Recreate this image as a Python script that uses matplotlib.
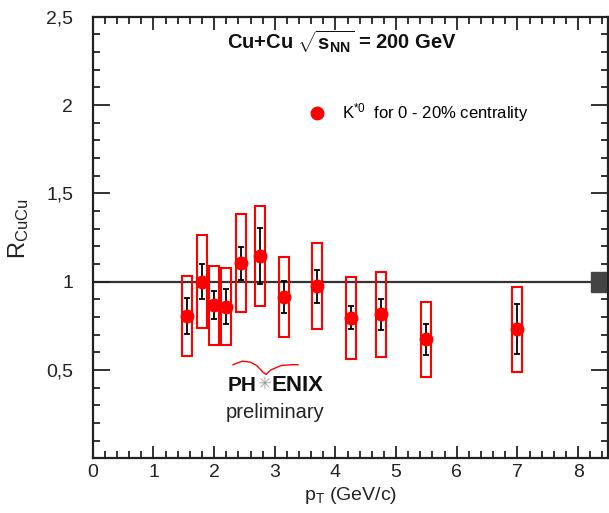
import matplotlib
matplotlib.use("Agg")
import matplotlib.pyplot as plt
from matplotlib.patches import Rectangle
from matplotlib.ticker import MultipleLocator, FixedLocator, FixedFormatter

plt.rcParams['font.family'] = ['Liberation Sans', 'DejaVu Sans']
plt.rcParams['mathtext.fontset'] = 'custom'
plt.rcParams['mathtext.rm'] = 'Liberation Sans'
plt.rcParams['mathtext.it'] = 'Liberation Sans:italic'
plt.rcParams['mathtext.bf'] = 'Liberation Sans:bold'

# ---- data ----
pt = [1.55, 1.8, 2.0, 2.2, 2.45, 2.75, 3.15, 3.7, 4.25, 4.75, 5.5, 7.0]
R = [0.805, 1.0, 0.867, 0.858, 1.104, 1.145, 0.914, 0.975, 0.797, 0.816, 0.673, 0.73]
stat_err = [0.10, 0.098, 0.08, 0.10, 0.095, 0.16, 0.09, 0.093, 0.066, 0.087, 0.088, 0.142]
sys_err = [0.225, 0.262, 0.224, 0.218, 0.278, 0.285, 0.227, 0.245, 0.232, 0.24, 0.212, 0.239]
norm_err = 0.057
yticks = [0, 0.5, 1, 1.5, 2, 2.5]
ytick_labels = ['', '0,5', '1', '1,5', '2', '2,5']
xticks = [0, 1, 2, 3, 4, 5, 6, 7, 8]

# ---- style ----
box_w = 0.165
norm_w = 0.29
red = '#ff0000'

fig = plt.figure(figsize=(6.09, 5.13), dpi=100)
ax = fig.add_axes([0.1524, 0.1066, 0.8476 - 0.001, 0.8608])
ax.set_xlim(0, 8.5)
ax.set_ylim(0, 2.5)

ax.axhline(1.0, color='#333333', lw=1.6, zorder=1)
ax.add_patch(Rectangle((8.5 - norm_w, 1 - norm_err), norm_w, 2 * norm_err,
                       facecolor='#444444', edgecolor='#444444', zorder=2, clip_on=False))

for x, y, s in zip(pt, R, sys_err):
    ax.add_patch(Rectangle((x - box_w / 2, y - s), box_w, 2 * s, fill=False,
                           edgecolor=red, lw=1.5, zorder=3))

ax.errorbar(pt, R, yerr=stat_err, fmt='none', ecolor='black', elinewidth=1.3,
            capsize=2.5, capthick=1.3, zorder=4)
ax.plot(pt, R, 'o', color=red, markersize=9, zorder=5,
        label=r'K$^{*0}$  for 0 - 20% centrality')

# ticks
ax.yaxis.set_major_locator(FixedLocator(yticks))
ax.yaxis.set_major_formatter(FixedFormatter(ytick_labels))
ax.yaxis.set_minor_locator(MultipleLocator(0.1))
ax.xaxis.set_major_locator(FixedLocator(xticks))
ax.xaxis.set_minor_locator(MultipleLocator(0.2))
ax.tick_params(which='both', direction='in', top=True, right=True, colors='#222222',
               labelsize=14, width=1.3)
ax.tick_params(axis='y', which='major', length=12, pad=14)
ax.tick_params(axis='x', which='major', length=9, pad=4)
ax.tick_params(which='minor', length=5)
for sp in ax.spines.values():
    sp.set_linewidth(1.6)
    sp.set_color('#222222')

ax.set_xlabel(r'p$_{\mathrm{T}}$ (GeV/c)', fontsize=14, color='#222222', labelpad=3)
ax.set_ylabel(r'R$_{\mathrm{CuCu}}$', fontsize=17, color='#222222')
ax.yaxis.set_label_coords(-0.12, 0.52)

ax.text(0.26, 0.944, r'Cu+Cu $\sqrt{\mathbf{s}_{\mathbf{NN}}}$ = 200 GeV', transform=ax.transAxes,
        fontsize=14.5, fontweight='bold', ha='left', va='center', color='#111111')

leg = ax.legend(loc='center left', bbox_to_anchor=(0.40, 0.782), frameon=False,
                fontsize=12, handlelength=1.2, handletextpad=0.9, borderpad=0)

# PHENIX logo
ax.text(0.318, 0.166, 'PH', transform=ax.transAxes, fontsize=15, fontweight='bold',
        ha='right', va='center', color='#111111')
ax.text(0.333, 0.168, '\u2733', transform=ax.transAxes, fontsize=12, ha='center', va='center',
        color='#999999', family='DejaVu Sans')
ax.text(0.347, 0.166, 'ENIX', transform=ax.transAxes, fontsize=16, fontweight='bold',
        ha='left', va='center', color='#111111')
ax.text(0.353, 0.103, 'preliminary', transform=ax.transAxes, fontsize=14.5,
        ha='center', va='center', color='#222222')
ax.plot([0.272, 0.29, 0.305, 0.318, 0.33, 0.336, 0.345, 0.365, 0.385, 0.398],
        [0.212, 0.22, 0.218, 0.21, 0.195, 0.19, 0.2, 0.21, 0.212, 0.212],
        transform=ax.transAxes, color=red, lw=1.0, clip_on=False)

fig.savefig('out.png', dpi=100)
